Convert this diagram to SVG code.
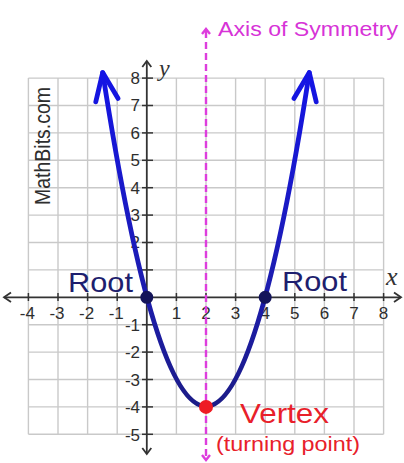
<svg xmlns="http://www.w3.org/2000/svg" width="404" height="463" viewBox="0 0 404 463">
<defs>
<linearGradient id="curveGrad" gradientUnits="userSpaceOnUse" x1="0" y1="70" x2="0" y2="410">
<stop offset="0" stop-color="#1414e6"/>
<stop offset="0.55" stop-color="#1c1cb8"/>
<stop offset="1" stop-color="#1c1c86"/>
</linearGradient>
</defs>
<style>
.grid line{stroke:#c9c9c9;stroke-width:1.4}
.axis{stroke:#333;stroke-width:1.8;fill:none}
.tick{stroke:#333;stroke-width:1.5}
.lbl{font-family:"Liberation Sans",Arial,sans-serif;font-size:17px;fill:#2e2e2e}
.xl{text-anchor:middle}
.yl{text-anchor:end}
.sym{stroke:#dd3ddd;stroke-width:2.4;fill:none}
.curve{stroke:url(#curveGrad);stroke-width:4.8;fill:none;stroke-linecap:round;stroke-linejoin:round}
.root{font-family:"Liberation Sans",Arial,sans-serif;font-size:28px;fill:#1e1e6e}
</style>
<rect width="404" height="463" fill="#fff"/>
<g id="grid" class="grid">
<line x1="28.4" y1="78.1" x2="28.4" y2="434.3"/>
<line x1="58" y1="78.1" x2="58" y2="434.3"/>
<line x1="87.6" y1="78.1" x2="87.6" y2="434.3"/>
<line x1="117.2" y1="78.1" x2="117.2" y2="434.3"/>
<line x1="176.4" y1="78.1" x2="176.4" y2="434.3"/>
<line x1="206" y1="78.1" x2="206" y2="434.3"/>
<line x1="235.6" y1="78.1" x2="235.6" y2="434.3"/>
<line x1="265.2" y1="78.1" x2="265.2" y2="434.3"/>
<line x1="294.8" y1="78.1" x2="294.8" y2="434.3"/>
<line x1="324.4" y1="78.1" x2="324.4" y2="434.3"/>
<line x1="354" y1="78.1" x2="354" y2="434.3"/>
<line x1="383.6" y1="78.1" x2="383.6" y2="434.3"/>
<line x1="28.4" y1="78.1" x2="383.6" y2="78.1"/>
<line x1="28.4" y1="105.5" x2="383.6" y2="105.5"/>
<line x1="28.4" y1="132.9" x2="383.6" y2="132.9"/>
<line x1="28.4" y1="160.3" x2="383.6" y2="160.3"/>
<line x1="28.4" y1="187.7" x2="383.6" y2="187.7"/>
<line x1="28.4" y1="215.1" x2="383.6" y2="215.1"/>
<line x1="28.4" y1="242.5" x2="383.6" y2="242.5"/>
<line x1="28.4" y1="269.9" x2="383.6" y2="269.9"/>
<line x1="28.4" y1="324.7" x2="383.6" y2="324.7"/>
<line x1="28.4" y1="352.1" x2="383.6" y2="352.1"/>
<line x1="28.4" y1="379.5" x2="383.6" y2="379.5"/>
<line x1="28.4" y1="406.9" x2="383.6" y2="406.9"/>
<line x1="28.4" y1="434.3" x2="383.6" y2="434.3"/>
</g>
<text id="watermark" class="lbl" style="font-size:19.5px" transform="translate(50,205) rotate(-90) scale(1,1.1)">MathBits.com</text>
<g id="axes">
<line class="axis" x1="4" y1="297.3" x2="401" y2="297.3"/>
<polyline class="axis" points="11,292.5 4,297.3 11,302"/>
<polyline class="axis" points="394,292.5 401,297.3 394,302"/>
<line class="axis" x1="146.8" y1="61" x2="146.8" y2="454"/>
<polyline class="axis" points="142.3,67 146.8,61 151.3,67"/>
<polyline class="axis" points="142.3,448 146.8,454 151.3,448"/>
<g class="tick">
<line x1="28.4" y1="293" x2="28.4" y2="301"/>
<line x1="58" y1="293" x2="58" y2="301"/>
<line x1="87.6" y1="293" x2="87.6" y2="301"/>
<line x1="117.2" y1="293" x2="117.2" y2="301"/>
<line x1="176.4" y1="293" x2="176.4" y2="301"/>
<line x1="206" y1="293" x2="206" y2="301"/>
<line x1="235.6" y1="293" x2="235.6" y2="301"/>
<line x1="265.2" y1="293" x2="265.2" y2="301"/>
<line x1="294.8" y1="293" x2="294.8" y2="301"/>
<line x1="324.4" y1="293" x2="324.4" y2="301"/>
<line x1="354" y1="293" x2="354" y2="301"/>
<line x1="383.6" y1="293" x2="383.6" y2="301"/>
<line x1="142" y1="78.1" x2="153" y2="78.1"/>
<line x1="142" y1="105.5" x2="153" y2="105.5"/>
<line x1="142" y1="132.9" x2="153" y2="132.9"/>
<line x1="142" y1="160.3" x2="153" y2="160.3"/>
<line x1="142" y1="187.7" x2="153" y2="187.7"/>
<line x1="142" y1="215.1" x2="153" y2="215.1"/>
<line x1="142" y1="242.5" x2="153" y2="242.5"/>
<line x1="142" y1="269.9" x2="153" y2="269.9"/>
<line x1="142" y1="324.7" x2="153" y2="324.7"/>
<line x1="142" y1="352.1" x2="153" y2="352.1"/>
<line x1="142" y1="379.5" x2="153" y2="379.5"/>
<line x1="142" y1="406.9" x2="153" y2="406.9"/>
<line x1="142" y1="434.3" x2="153" y2="434.3"/>
</g>
<g class="lbl xl">
<text x="27.4" y="318.5">-4</text>
<text x="57" y="318.5">-3</text>
<text x="86.6" y="318.5">-2</text>
<text x="116.2" y="318.5">-1</text>
<text x="176.4" y="318.5">1</text>
<text x="206" y="318.5">2</text>
<text x="235.6" y="318.5">3</text>
<text x="265.2" y="318.5">4</text>
<text x="294.8" y="318.5">5</text>
<text x="324.4" y="318.5">6</text>
<text x="354" y="318.5">7</text>
<text x="383.6" y="318.5">8</text>
</g>
<g class="lbl yl">
<text x="140" y="84">8</text>
<text x="140" y="111.4">7</text>
<text x="140" y="138.8">6</text>
<text x="140" y="166.2">5</text>
<text x="140" y="193.6">4</text>
<text x="140" y="221">3</text>
<text x="140" y="248.4">2</text>
<text x="140" y="331">-1</text>
<text x="140" y="358.4">-2</text>
<text x="140" y="385.8">-3</text>
<text x="140" y="413.2">-4</text>
<text x="140" y="440.6">-5</text>
</g>
<text x="159" y="76" font-family="Liberation Serif,Times New Roman,serif" font-style="italic" font-size="24" fill="#333">y</text>
<text x="386" y="285" font-family="Liberation Serif,Times New Roman,serif" font-style="italic" font-size="26" fill="#333">x</text>
</g>
<g id="symmetry-axis">
<line class="sym" x1="206" y1="31" x2="206" y2="458" stroke-dasharray="7,4"/>
<polyline class="sym" points="202,34 206,29 210,34"/>
<polyline class="sym" points="202,455 206,460 210,455"/>
<text x="218" y="36" font-family="Liberation Sans,Arial,sans-serif" font-size="21" fill="#d733d7" textLength="180" lengthAdjust="spacingAndGlyphs">Axis of Symmetry</text>
</g>
<g id="parabola">
<path class="curve" d="M102.7,72.6 Q206,740.1 309.3,72.6"/>
<polyline class="curve" points="95.8,101.8 102.7,72.6 118.1,98.4"/>
<polyline class="curve" points="293.9,98.4 309.3,72.6 316.2,101.8"/>
</g>
<g id="root-left">
<circle cx="146.8" cy="297.3" r="6.5" fill="#14145a"/>
<text class="root" x="68" y="291.5" textLength="65" lengthAdjust="spacingAndGlyphs">Root</text>
</g>
<g id="root-right">
<circle cx="265.2" cy="297.3" r="6.5" fill="#14145a"/>
<text class="root" x="282" y="290.5" textLength="65" lengthAdjust="spacingAndGlyphs">Root</text>
</g>
<g id="vertex">
<circle cx="206" cy="406.9" r="7" fill="#ee1c24"/>
<text x="240" y="423" font-family="Liberation Sans,Arial,sans-serif" font-size="28" fill="#e8202a" textLength="89" lengthAdjust="spacingAndGlyphs">Vertex</text>
<text x="216" y="450.5" font-family="Liberation Sans,Arial,sans-serif" font-size="21" fill="#e8202a" textLength="144" lengthAdjust="spacingAndGlyphs">(turning point)</text>
</g>
</svg>
